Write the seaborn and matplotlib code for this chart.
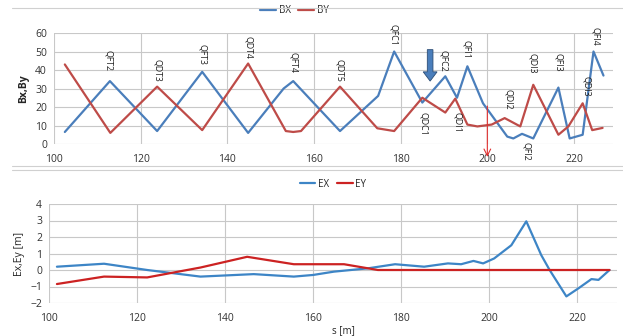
import numpy as np
import pandas as pd
import seaborn as sns
import matplotlib.pyplot as plt
import matplotlib.lines as mlines

# beta functions along s
s_bx = [102.5, 112.9, 123.8, 134.2, 144.8, 153.0, 155.2, 166.0, 174.8, 178.5, 185.0,
        190.3, 193.0, 195.4, 199.0, 204.6, 206.0, 208.0, 210.6, 216.4, 219.0, 222.0,
        224.5, 226.8]
bx = [6.5, 34, 7, 39, 6, 30, 34, 7, 26, 50, 22.4,
      36.6, 25, 42, 22, 4, 3, 5.5, 3, 30.5, 3, 5,
      50, 37]

s_by = [102.5, 113.0, 123.8, 134.2, 144.8, 153.5, 155.2, 157.0, 166.0, 174.6, 178.5,
        185.0, 190.3, 192.6, 195.4, 197.7, 201.0, 204.0, 207.6, 210.6, 216.4, 218.7,
        222.0, 224.2, 226.6]
by = [43, 6, 31, 7.5, 43.5, 7, 6.5, 7, 31, 8.5, 7,
      25, 17, 24.5, 10.5, 9.5, 10.5, 14, 9.5, 32, 5, 9.5,
      22, 7.5, 8.7]

# dispersion along s
s_ex = [101.8, 112.5, 122.3, 134.4, 146.5, 155.6, 160.0, 164.7, 172.4, 178.6, 185.2,
        190.6, 193.6, 196.4, 198.6, 201.1, 205.0, 208.4, 211.8, 213.7, 217.5, 220.3,
        223.2, 224.8, 227.3]
ex = [0.2, 0.38, 0.0, -0.4, -0.25, -0.4, -0.3, -0.1, 0.1, 0.35, 0.2,
      0.4, 0.35, 0.55, 0.4, 0.7, 1.5, 2.95, 0.9, 0.0, -1.6, -1.1,
      -0.55, -0.6, 0.0]

s_ey = [101.8, 112.5, 122.3, 134.4, 145.0, 155.6, 167.0, 174.7, 190.0, 210.0, 227.3]
ey = [-0.85, -0.4, -0.45, 0.15, 0.8, 0.35, 0.35, 0.0, 0.0, 0.0, 0.0]

# magnet labels: name, s, top of label (in beta units)
mag_names = ["QFT2", "QDT3", "QFT3", "QDT4", "QFT4", "QDT5", "QFC1", "QDC1", "QFC2",
             "QFI1", "QDI1", "QDI2", "QFI2", "QDI3", "QFI3", "QDI3", "QFI4"]
mag_s = [112.5, 123.8, 134.3, 145.0, 155.3, 166.0, 178.3, 185.3, 190.0,
         195.3, 193.2, 205.0, 209.0, 210.5, 216.5, 222.8, 225.0]
mag_top = [51, 46, 54, 58.5, 50, 46, 65, 17.5, 51,
           56, 17.5, 29.5, 1, 49, 49, 37, 63]

blue = "#4a7ebb"
red = "#be4b48"
blue2 = "#3d85c6"
red2 = "#cc2222"

sns.set_theme(style="whitegrid")
plt.rcParams['font.family'] = ['Open Sans', 'DejaVu Sans']

fig = plt.figure(figsize=(6.23, 3.36), dpi=100)
W, H = 623, 336
ax1 = fig.add_axes([54 / W, 1 - 144 / H, 559 / W, 111 / H])
ax2 = fig.add_axes([49 / W, 1 - 303 / H, 568 / W, 99 / H])

df_b = pd.concat([pd.DataFrame({"s": s_bx, "v": bx, "k": "BX"}),
                  pd.DataFrame({"s": s_by, "v": by, "k": "BY"})])
df_e = pd.concat([pd.DataFrame({"s": s_ex, "v": ex, "k": "EX"}),
                  pd.DataFrame({"s": s_ey, "v": ey, "k": "EY"})])

sns.lineplot(data=df_b, x="s", y="v", hue="k", palette={"BX": blue, "BY": red},
             sort=False, estimator=None, linewidth=1.6, ax=ax1, legend=False)
sns.lineplot(data=df_e, x="s", y="v", hue="k", palette={"EX": blue2, "EY": red2},
             sort=False, estimator=None, linewidth=1.6, ax=ax2, legend=False)

for ax in (ax1, ax2):
    ax.set_xlim(100, 229)
    ax.set_xticks([100, 120, 140, 160, 180, 200, 220])
    ax.grid(True, color="#c8c8c8", linewidth=0.8)
    for sp in ax.spines.values():
        sp.set_visible(False)
    ax.tick_params(labelsize=7.5, length=0, colors="#333333")
    ax.tick_params(axis="x", pad=7)
    ax.tick_params(axis="y", pad=5)
    ax.set_xlabel("")

ax1.set_ylim(0, 60)
ax1.set_yticks(range(0, 61, 10))
ax1.set_ylabel("Bx,By", fontsize=7.5, fontweight="bold", labelpad=4)
ax2.set_ylim(-2, 4)
ax2.set_yticks(range(-2, 5))
ax2.set_ylabel("Ex,Ey [m]", fontsize=7.5, labelpad=4)
fig.text(343 / W, 1 - 331 / H, "s [m]", fontsize=7, ha="center", va="center")

for name, s, top in zip(mag_names, mag_s, mag_top):
    ax1.text(s, top, name, rotation=270, ha="center", va="top", fontsize=6.3,
             color="#222222", clip_on=False)

# blue block arrow and red marker arrow
ax1.arrow(186.8, 51, 0, -17, width=1.3, head_width=3.2, head_length=5,
          length_includes_head=True, fc=blue, ec="#2c4d75", lw=0.6, clip_on=False, zorder=5)
ax1.annotate("", xy=(200, -8.5), xytext=(200, 22),
             arrowprops=dict(arrowstyle="->", color="#e03030", lw=0.8), annotation_clip=False)

h1 = [mlines.Line2D([], [], color=blue, lw=1.6), mlines.Line2D([], [], color=red, lw=1.6)]
ax1.legend(h1, ["BX", "BY"], loc="center", bbox_to_anchor=(0.43, 1.2), ncol=2,
           frameon=False, fontsize=7, handlelength=1.6, columnspacing=0.8, handletextpad=0.3)
h2 = [mlines.Line2D([], [], color=blue2, lw=1.6), mlines.Line2D([], [], color=red2, lw=1.6)]
ax2.legend(h2, ["EX", "EY"], loc="center", bbox_to_anchor=(0.5, 1.2), ncol=2,
           frameon=False, fontsize=7, handlelength=1.6, columnspacing=0.8, handletextpad=0.3)

# faint separators between the two chart panels
for y in (8, 166, 170):
    fig.add_artist(mlines.Line2D([0.02, 1], [1 - y / H, 1 - y / H], color="#d0d0d0", lw=0.8))

fig.savefig("out.png", dpi=100)
